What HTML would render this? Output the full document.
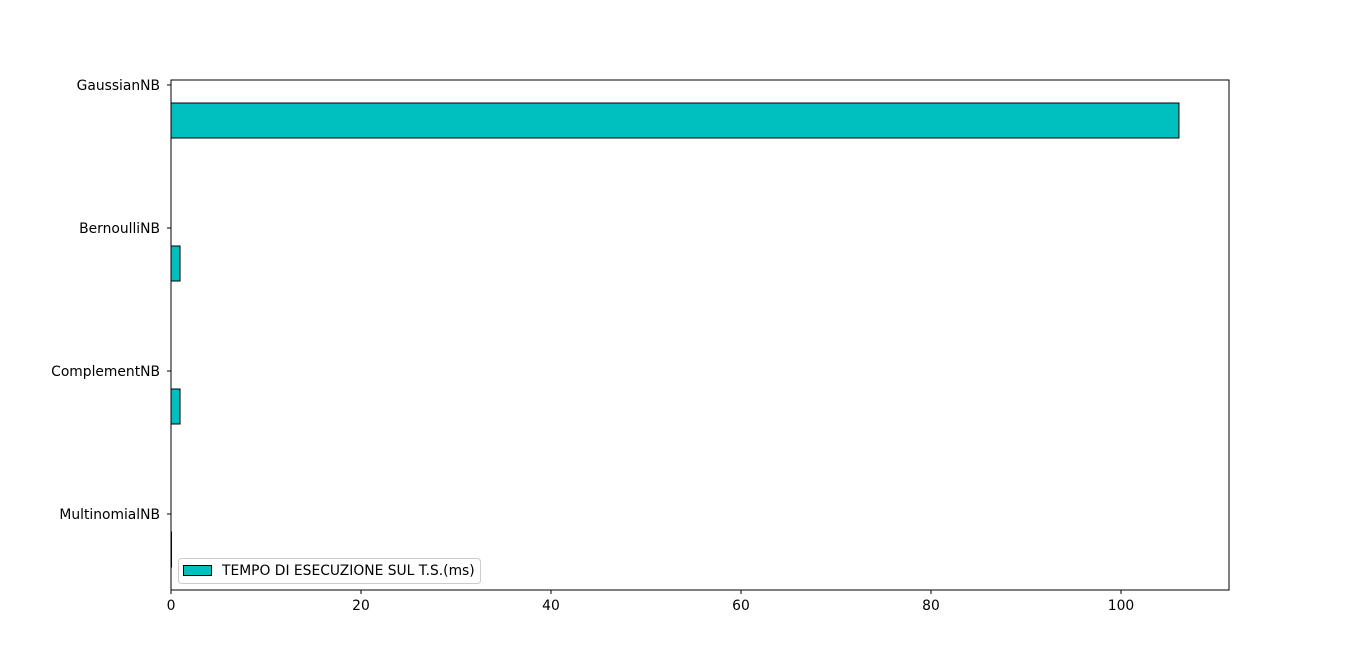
<!DOCTYPE html>
<html><head><meta charset="utf-8"><style>
body{margin:0;background:#fff;}
svg{display:block;font-family:"DejaVu Sans","Liberation Sans",sans-serif;}
</style></head><body>
<svg id="chart" width="1366" height="663"></svg>
<script>
const categories=["GaussianNB","BernoulliNB","ComplementNB","MultinomialNB"];
const values=[106.1,0.95,0.95,0.05];
const xTicks=[0,20,40,60,80,100];
const seriesName="TEMPO DI ESECUZIONE SUL T.S.(ms)";
const NS="http://www.w3.org/2000/svg";
const svg=document.getElementById('chart');
const L=171,R=1229,T=80,B=590,xmax=111.37;
const FS=13.85;
const x=v=>L+(v/xmax)*(R-L);
const yTick=i=>85+i*143;
function mk(t,a){const e=document.createElementNS(NS,t);for(const k in a)e.setAttribute(k,a[k]);svg.appendChild(e);return e;}
categories.forEach((c,i)=>{
  const r=mk('rect',{x:L,y:yTick(i)+18,width:Math.max(0,x(values[i])-L),height:35,fill:'#00bfbf',stroke:'#000','stroke-width':1});
  
  
  const tk=mk('line',{x1:L-4,x2:L,y1:yTick(i),y2:yTick(i),stroke:'#000'});
  
  
  const tx=mk('text',{x:L-11,y:yTick(i)+5,'text-anchor':'end','font-size':FS});
  tx.textContent=c;
  
  
});
xTicks.forEach(v=>{
  const tk=mk('line',{x1:x(v),x2:x(v),y1:B,y2:B+4,stroke:'#000'});
  
  
  const tx=mk('text',{x:x(v),y:B+20,'text-anchor':'middle','font-size':FS});
  tx.textContent=v;
  
  
});
const frame=mk('rect',{x:L,y:T,width:R-L,height:B-T,fill:'none',stroke:'#000','stroke-width':1});


const lg=mk('rect',{x:178.5,y:558.5,width:302,height:25,rx:3,fill:'#fff',stroke:'#ccc'});


const lp=mk('rect',{x:183.5,y:565.5,width:28,height:10,fill:'#00bfbf',stroke:'#000'});


const lt=mk('text',{x:222,y:575,'font-size':FS});
lt.textContent=seriesName;


</script>
</body></html>
